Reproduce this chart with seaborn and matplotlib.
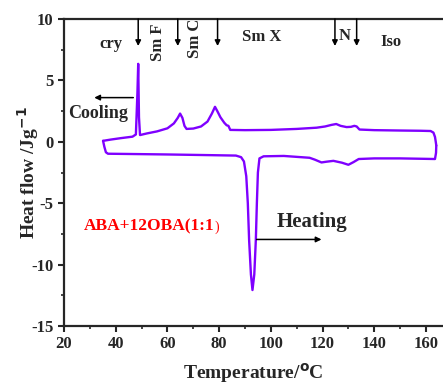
import numpy as np
import pandas as pd
import seaborn as sns
import matplotlib.pyplot as plt
from matplotlib.ticker import MultipleLocator

# Curva de enfriamiento (superior)
temp_cool = [35.1, 38, 42, 46.5, 47.8, 48.4, 48.7, 49.0, 49.4, 52, 56, 60, 62.5, 64.0, 64.9,
             65.8, 66.6, 67.4, 70, 73, 75.5, 77.2, 78.4, 79.3, 80.5, 82.0, 82.9, 83.6, 84.3,
             90, 100, 110, 117.7, 121, 123.5, 125.3, 127, 129.3, 131, 132.3, 133.2, 134.3,
             140, 150, 158, 161.8, 162.9, 163.5, 163.8, 164.0]
hf_cool = [0.08, 0.18, 0.3, 0.42, 0.6, 4.0, 6.35, 2.0, 0.55, 0.68, 0.85, 1.1, 1.5, 1.95, 2.3,
           1.95, 1.3, 1.05, 1.08, 1.25, 1.65, 2.3, 2.85, 2.5, 2.0, 1.55, 1.35, 1.3, 0.97,
           0.95, 0.97, 1.05, 1.15, 1.25, 1.38, 1.45, 1.3, 1.2, 1.22, 1.3, 1.25, 1.0,
           0.95, 0.92, 0.9, 0.88, 0.75, 0.4, 0.0, -0.3]

# Curva de calentamiento (inferior)
temp_heat = [164.0, 163.9, 163.5, 150, 140, 134.0, 132.0, 130.0, 127.5, 124.2, 121.5,
             119.6, 117, 115, 105, 97.2, 95.6, 95.0, 94.6, 94.2, 93.6, 92.9, 92.3, 91.6,
             91.1, 90.5, 89.6, 88.5, 86.5, 75, 60, 45, 37.0, 36.2, 35.6, 35.1]
hf_heat = [-0.3, -0.9, -1.4, -1.35, -1.35, -1.4, -1.65, -1.87, -1.7, -1.55, -1.62,
           -1.68, -1.45, -1.3, -1.15, -1.18, -1.35, -2.5, -5.0, -8.0, -10.8, -12.07, -10.8, -8.0,
           -5.0, -2.8, -1.6, -1.25, -1.12, -1.08, -1.03, -0.99, -0.97, -0.85, -0.4, 0.08]

df = pd.concat([
    pd.DataFrame({"T": temp_cool, "HF": hf_cool, "curva": "cooling"}),
    pd.DataFrame({"T": temp_heat, "HF": hf_heat, "curva": "heating"}),
])

sns.set_style("ticks")
plt.rcParams["font.family"] = ["Liberation Serif", "DejaVu Serif"]
plt.rcParams["font.weight"] = "bold"
plt.rcParams["axes.unicode_minus"] = False

fig = plt.figure(figsize=(4.43, 3.85), dpi=100)
ax = fig.add_axes([0.1445, 0.1532, 0.8555, 0.7974])

sns.lineplot(data=df, x="T", y="HF", units="curva", estimator=None, sort=False,
             color="#7f00ff", linewidth=1.7, ax=ax, legend=False)

ax.set_xlim(20, 166.6)
ax.set_ylim(-15, 10)
ax.xaxis.set_major_locator(MultipleLocator(20))
ax.xaxis.set_minor_locator(MultipleLocator(10))
ax.yaxis.set_major_locator(MultipleLocator(5))
ax.yaxis.set_minor_locator(MultipleLocator(2.5))
ax.tick_params(which="major", direction="out", length=4, width=1.5, labelsize=12)
ax.tick_params(which="minor", direction="out", length=2.5, width=1.2)
for lab in ax.get_xticklabels() + ax.get_yticklabels():
    lab.set_fontweight("bold")
for side in ["left", "bottom", "top"]:
    ax.spines[side].set_visible(True)
    ax.spines[side].set_linewidth(1.6)
ax.spines["right"].set_visible(False)

ax.set_xlabel("Temperature/$\\mathbf{^{o}}$C", fontsize=14, fontweight="bold", labelpad=6)
ax.set_ylabel("Heat flow /Jg$\\mathbf{^{-1}}$", fontsize=14, fontweight="bold", labelpad=-7)

# Flechas de transición
for xt in [48.7, 64.0, 79.4, 124.8, 133.2]:
    ax.annotate("", xy=(xt, 7.8), xytext=(xt, 10.0),
                arrowprops=dict(arrowstyle="-|>", color="black", lw=1.1,
                                mutation_scale=8, shrinkA=0, shrinkB=0))

ax.text(38, 8.0, "cry", fontsize=12, fontweight="bold", ha="center", va="center")
ax.text(56.4, 8.1, "Sm F", fontsize=12, fontweight="bold", ha="center", va="center", rotation=90)
ax.text(70.7, 8.4, "Sm C", fontsize=12, fontweight="bold", ha="center", va="center",
        rotation=90, clip_on=True)
ax.text(96.5, 8.55, "Sm X", fontsize=12, fontweight="bold", ha="center", va="center")
ax.text(128.5, 8.6, "N", fontsize=12, fontweight="bold", ha="center", va="center")
ax.text(146.3, 8.1, "Iso", fontsize=12, fontweight="bold", ha="center", va="center")

ax.annotate("", xy=(31.7, 3.6), xytext=(46.8, 3.6),
            arrowprops=dict(arrowstyle="-|>", color="black", lw=1.1,
                            mutation_scale=8, shrinkA=0, shrinkB=0))
ax.text(33.3, 2.3, "Cooling", fontsize=13, fontweight="bold", ha="center", va="center")

ax.annotate("", xy=(119.6, -7.95), xytext=(94.5, -7.95),
            arrowprops=dict(arrowstyle="-|>", color="black", lw=1.1,
                            mutation_scale=8, shrinkA=0, shrinkB=0))
ax.text(115.8, -6.55, "Heating", fontsize=15, fontweight="bold", ha="center", va="center")

ax.text(53.0, -6.9, "ABA+12OBA(1:1", fontsize=12.5, fontweight="bold", color="red",
        ha="center", va="center")
ax.text(79.0, -6.95, ")", fontsize=10, fontweight="normal", color="red",
        ha="center", va="center")

fig.savefig("out.png", dpi=100)
